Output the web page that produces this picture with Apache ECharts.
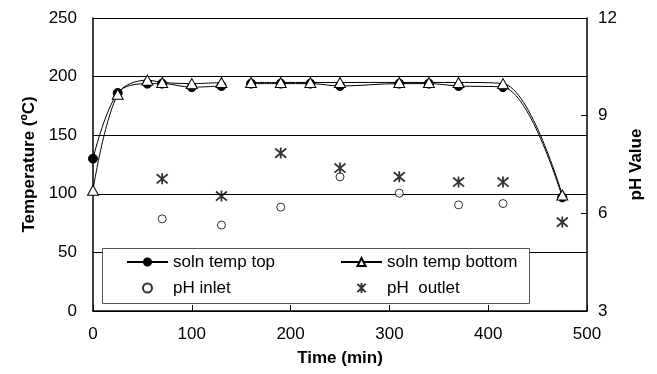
<!DOCTYPE html>
<html>
<head>
<meta charset="utf-8">
<script src="https://cdn.jsdelivr.net/npm/echarts@6/dist/echarts.min.js"></script>
<style>
  html, body { margin: 0; padding: 0; background: #fff; }
  #chart { width: 657px; height: 374px; }
</style>
</head>
<body>
<div id="chart"></div>
<script>
// Solution temperatures (ºC) vs time (min); null marks the break in logging
const tempTimes   = [0, 25, 55, 70, 100, 130, 145, 160, 190, 220, 250, 310, 340, 370, 415, 475];
const tempTop     = [130, 186, 194, 194, 191, 192, null, 194, 194, 194, 192, 194, 194, 192, 191, 97];
const tempBottom  = [103, 185, 197, 195, 194, 195, null, 195, 195, 195, 195, 195, 195, 195, 194, 99];

// pH readings (right axis)
const phTimes     = [70, 130, 190, 250, 310, 370, 415];
const phInlet     = [5.83, 5.64, 6.19, 7.12, 6.62, 6.26, 6.30];
const phOutTimes  = [70, 130, 190, 250, 310, 370, 415, 475];
const phOutlet    = [7.06, 6.53, 7.85, 7.39, 7.12, 6.96, 6.96, 5.73];

const xTicks = { min: 0, max: 500, interval: 100 };
const tempTicks = { min: 0, max: 250, interval: 50 };
const phTicks = { min: 3, max: 12, interval: 3 };

const pairs = (xs, ys) => xs.map((x, i) => [x, ys[i]]);

const FONT = '"Liberation Sans", Arial, sans-serif';
const asterisk = 'path://M0,0L10,10M10,0L0,10M5,-1L5,11';
const titleStyle = { fontSize: 17, fontWeight: 'bold', fontFamily: FONT, color: '#000' };
const legendText = { fontSize: 17, lineHeight: 20, color: '#000', fontFamily: FONT };

const chart = echarts.init(document.getElementById('chart'), null, { renderer: 'canvas' });

chart.setOption({
  backgroundColor: '#ffffff',
  animation: false,
  textStyle: { fontFamily: FONT, color: '#000' },
  grid: { left: 93, right: 70, top: 18, bottom: 63 },
  xAxis: {
    type: 'value',
    min: xTicks.min, max: xTicks.max, interval: xTicks.interval,
    name: 'Time (min)',
    nameLocation: 'middle',
    nameGap: 39,
    nameTextStyle: titleStyle,
    axisLine: { lineStyle: { color: '#000', width: 1.5 } },
    axisTick: { inside: true, length: 6, lineStyle: { color: '#000' } },
    axisLabel: { fontSize: 17, margin: 15, color: '#000', fontFamily: FONT },
    splitLine: { show: false }
  },
  yAxis: [
    {
      type: 'value',
      min: tempTicks.min, max: tempTicks.max, interval: tempTicks.interval,
      name: 'Temperature (ºC)',
      nameLocation: 'middle',
      nameRotate: 90,
      nameGap: 55,
      nameTextStyle: titleStyle,
      axisLine: { show: true, lineStyle: { color: '#000', width: 1.5 } },
      axisTick: { show: false },
      axisLabel: { fontSize: 17, margin: 16, color: '#000', fontFamily: FONT },
      splitLine: { show: true, lineStyle: { color: '#000', width: 1 } }
    },
    {
      type: 'value',
      position: 'right',
      min: phTicks.min, max: phTicks.max, interval: phTicks.interval,
      name: 'pH Value',
      nameLocation: 'middle',
      nameRotate: 90,
      nameGap: 41,
      nameTextStyle: titleStyle,
      axisLine: { show: true, lineStyle: { color: '#000', width: 1.5 } },
      axisTick: { show: true, inside: true, length: 6, lineStyle: { color: '#000' } },
      axisLabel: { fontSize: 17, margin: 11, color: '#000', fontFamily: FONT },
      splitLine: { show: false }
    }
  ],
  graphic: [{
    type: 'rect',
    left: 102, top: 248,
    shape: { width: 427, height: 55 },
    style: { fill: '#fff', stroke: '#555', lineWidth: 1 },
    z: 5
  }],
  legend: [
    {
      data: ['soln temp top', 'pH inlet'],
      orient: 'vertical',
      left: 126, top: 252, padding: 0,
      itemWidth: 41, itemHeight: 9, itemGap: 6,
      textStyle: legendText,
      z: 6
    },
    {
      data: ['soln temp bottom', 'pH  outlet'],
      orient: 'vertical',
      left: 340, top: 252, padding: 0,
      itemWidth: 41, itemHeight: 10, itemGap: 6,
      textStyle: legendText,
      z: 6
    }
  ],
  series: [
    {
      name: 'soln temp top',
      type: 'line',
      yAxisIndex: 0,
      data: pairs(tempTimes, tempTop),
      smooth: 0.35,
      connectNulls: false,
      symbol: 'circle',
      symbolSize: 9,
      lineStyle: { color: '#000', width: 1 },
      itemStyle: { color: '#000', borderColor: '#000', borderWidth: 1 },
      z: 2
    },
    {
      name: 'soln temp bottom',
      type: 'line',
      yAxisIndex: 0,
      data: pairs(tempTimes, tempBottom),
      smooth: 0.35,
      connectNulls: false,
      symbol: 'triangle',
      symbolSize: [11, 10],
      lineStyle: { color: '#000', width: 1 },
      itemStyle: { color: '#fff', borderColor: '#000', borderWidth: 1 },
      z: 3
    },
    {
      name: 'pH inlet',
      type: 'scatter',
      yAxisIndex: 1,
      data: pairs(phTimes, phInlet),
      symbol: 'circle',
      symbolSize: 8,
      itemStyle: { color: '#fff', borderColor: '#000', borderWidth: 1 },
      z: 2
    },
    {
      name: 'pH  outlet',
      type: 'scatter',
      yAxisIndex: 1,
      data: pairs(phOutTimes, phOutlet),
      symbol: asterisk,
      symbolSize: 11,
      itemStyle: { color: 'none', borderColor: '#000', borderWidth: 1.8 },
      z: 2
    }
  ]
});
</script>
</body>
</html>
